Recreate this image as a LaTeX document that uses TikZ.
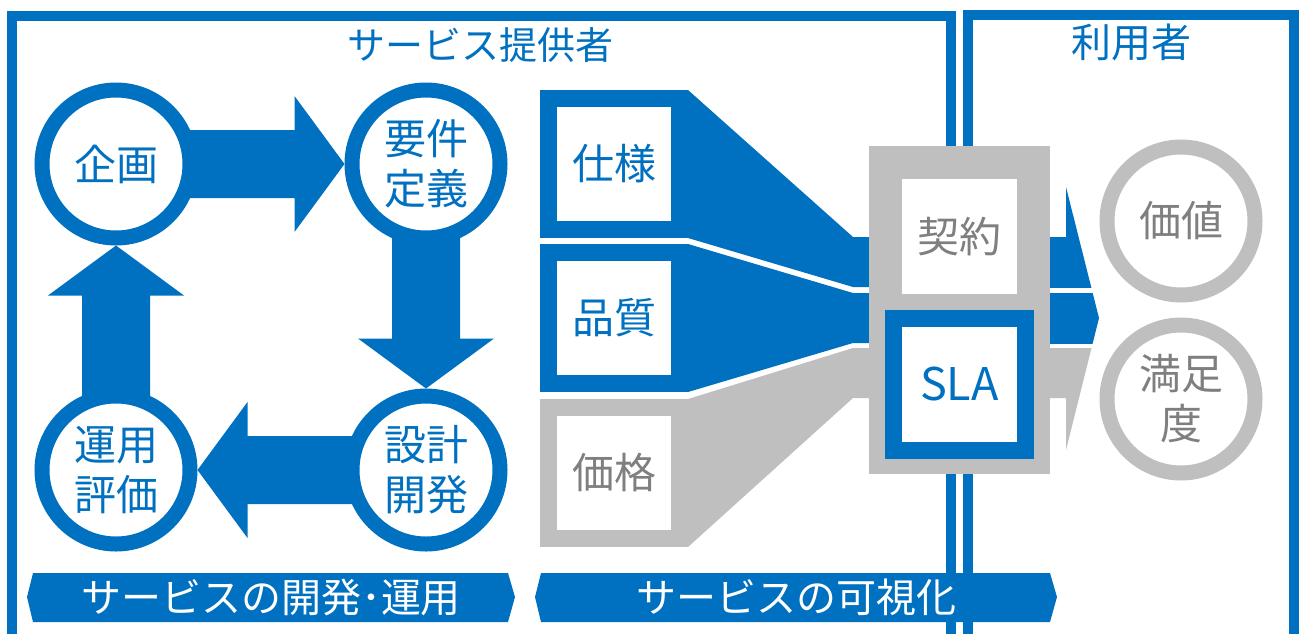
\documentclass[tikz,border=0pt]{standalone}
\usepackage{fontspec}
\setmainfont{Noto Sans CJK JP}
\usetikzlibrary{calc,backgrounds}
\definecolor{mblue}{HTML}{0070C0}
\definecolor{mgray}{HTML}{BFBFBF}
\definecolor{tgray}{HTML}{7F7F7F}
\newcommand\cyclearrow[2]{%
  \path (#2) coordinate (ctip) ($(#2)!50pt!(#1)$) coordinate (chead);
  \fill[mblue] ($(#1)!34pt!90:(ctip)$) -- ($(chead)!34pt!90:(ctip)$) -- ($(chead)!68pt!90:(ctip)$) -- (ctip) -- ($(chead)!68pt!-90:(ctip)$) -- ($(chead)!34pt!-90:(ctip)$) -- ($(#1)!34pt!-90:(ctip)$) -- cycle;}
\begin{document}
\begin{tikzpicture}[x=1pt,y=-1pt,
  bigfont/.style={font=\fontsize{42}{50}\selectfont},
  ring/.style={circle, draw=mblue, line width=15pt, outer sep=7.5pt, fill=white, minimum size=148pt, inner sep=0pt, text=mblue, align=center, bigfont},
  grayring/.style={ring, draw=mgray, text=tgray},
  block/.style={rectangle, draw=mblue, line width=17pt, outer sep=8.5pt, fill=white, minimum size=131pt, inner sep=0pt, text=mblue, bigfont},
  grayblock/.style={block, draw=mgray, text=tgray},
  frame/.style={draw=mblue, line width=10pt},
  title/.style={text=mblue, font=\fontsize{38}{46}\selectfont},
  bannertext/.style={text=white, font=\fontsize{40}{46}\selectfont},
  funnel/.style={fill=mblue},
  grayfunnel/.style={fill=mgray}]
\useasboundingbox (0,0) rectangle (1299,633);
\clip (0,0) rectangle (1299,633);
% frames
\draw[frame] (12,700) -- (12,16) -- (950.5,16) -- (950.5,700);
\draw[frame] (968,700) -- (968,14.5) -- (1294,14.5) -- (1294,700);
\node[title] (prov) at (480,45) {サービス提供者};
\node[title, font=\fontsize{40}{46}\selectfont] (user) at (1131,42) {利用者};
% cycle circles
\node[ring] (kikaku) at (116,164) {企画};
\node[ring] (youken) at (426,164) {要件\\定義};
\node[ring] (sekkei) at (426,470) {設計\\開発};
\node[ring] (unyou) at (116,470) {運用\\評価};
\begin{scope}[on background layer]
  \cyclearrow{kikaku.center}{youken.west}
  \cyclearrow{youken.center}{sekkei.north}
  \cyclearrow{sekkei.center}{unyou.east}
  \cyclearrow{unyou.center}{kikaku.south}
\end{scope}
% blocks
\node[block] (shiyou) at (614,164) {仕様};
\node[block] (hinshitsu) at (614,318) {品質};
\node[grayblock] (kakaku) at (614,473) {価格};
\begin{scope}[on background layer]
  \fill[funnel] (shiyou.north east) -- (853,237) -- (880,237) -- (880,287) -- (853,287) -- (shiyou.south east) -- cycle;
  \fill[funnel] (hinshitsu.north east) -- (853,293) -- (880,293) -- (880,343) -- (853,343) -- (hinshitsu.south east) -- cycle;
  \fill[grayfunnel] (kakaku.north east) -- (853,348) -- (880,348) -- (880,398) -- (853,398) -- (kakaku.south east) -- cycle;
\end{scope}
% visualisation box
\node[fill=mgray, minimum width=181pt, minimum height=328pt, inner sep=0pt, outer sep=0pt] (vis) at (959.5,310) {};
\node[fill=white, minimum size=115pt, inner sep=0pt, text=tgray, bigfont] (keiyaku) at (959.5,236.5) {契約};
\node[block, minimum size=132pt, font=\fontsize{45}{50}\selectfont] (sla) at (959.5,384) {SLA};
% value circles
\node[grayring] (kachi) at (1181,221) {価値};
\node[grayring] (manzoku) at (1181,399) {満足\\度};
% output arrow in stripes
\foreach \ya/\yb/\col in {0/287/mblue, 293/343/mblue, 348/640/mgray}{
  \begin{scope}
    \clip (1000,\ya) rectangle (1120,\yb);
    \fill[\col] (vis.east |- 0,237) -- (1066,237) -- (1066,187) -- (1099,318) -- (1066,450) -- (1066,398) -- (vis.east |- 0,398) -- cycle;
  \end{scope}
}
% banners
\fill[mblue] (27,597) -- (33,573) -- (508,573) -- (515,597) -- (508,622) -- (33,622) -- cycle;
\fill[mblue] (535,597) -- (541,573) -- (1050,573) -- (1057,597) -- (1050,622) -- (541,622) -- cycle;
\node[bannertext] (dev) at (271,597) {サービスの開発･運用};
\node[bannertext] (visib) at (796,597) {サービスの可視化};
\end{tikzpicture}
\end{document}
